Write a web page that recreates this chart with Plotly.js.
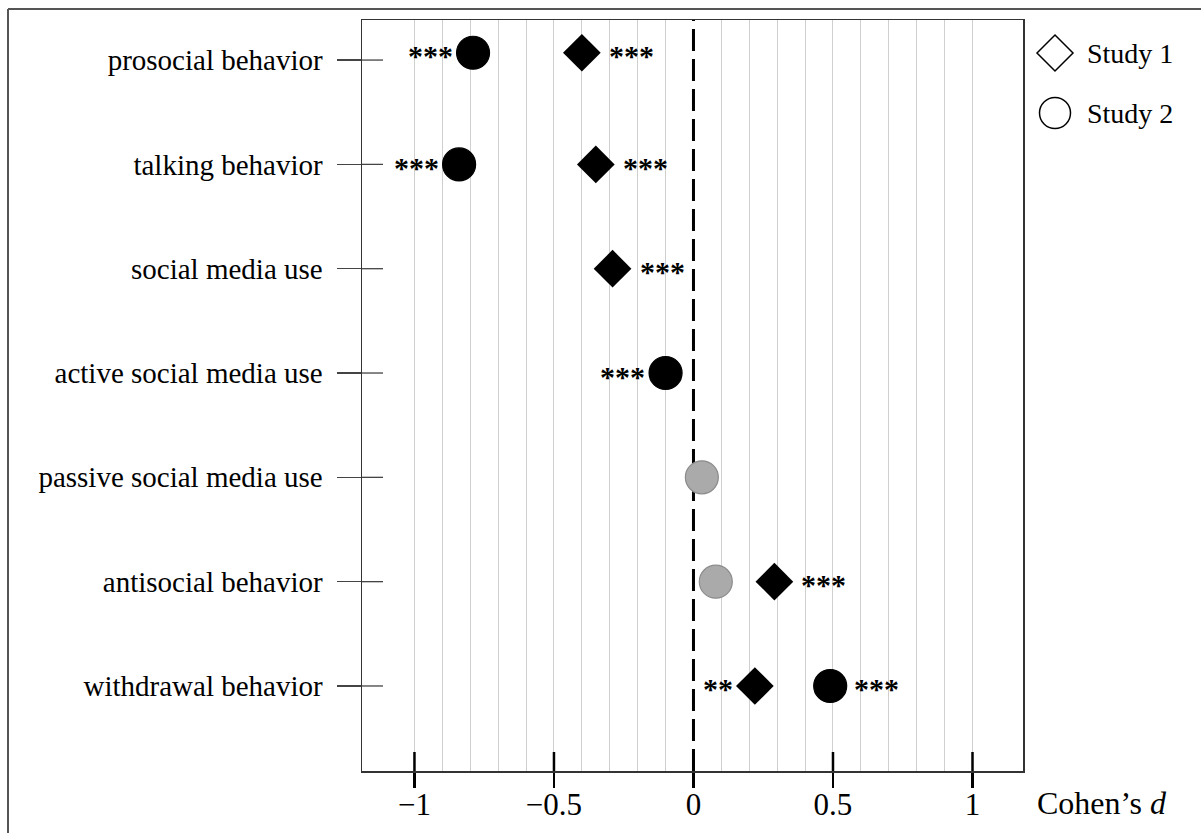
<!DOCTYPE html>
<html>
<head>
<meta charset="utf-8">
<script src="https://cdn.plot.ly/plotly-3.0.1.min.js"></script>
<style>html,body{margin:0;padding:0;background:#fff;}#chart{width:1201px;height:833px;}</style>
</head>
<body>
<div id="chart"></div>
<script>
// ---- data ----
const categories = ['prosocial behavior','talking behavior','social media use','active social media use','passive social media use','antisocial behavior','withdrawal behavior'];
const rowPos = [-0.07, 1, 2, 3, 4, 5, 6];   // vertical position of the markers in each row
const study1 = [-0.40, -0.35, -0.29, null, null, 0.29, 0.22];
const study2 = [-0.79, -0.84, null, -0.10, 0.03, 0.08, 0.49];
const sig1 = ['***','***','***','','','***','**'];
const sig2 = ['***','***','','***','','','***'];
const xTickVals = [-1, -0.5, 0, 0.5, 1];
const xTickText = ['\u22121', '\u22120.5', '0', '0.5', '1'];
const gridVals = [-1,-0.9,-0.8,-0.7,-0.6,-0.5,-0.4,-0.3,-0.2,-0.1,0.1,0.2,0.3,0.4,0.5,0.6,0.7,0.8,0.9,1];
const legendNames = ['Study 1', 'Study 2'];
const xTitle = 'Cohen\u2019s <i>d</i>';

// ---- geometry helpers ----
const W = 1201, H = 833;
const L = 362, R = 1023, T = 20, B = 771;
const px2x = p => (p - L) / (R - L);
const py2y = p => (B - p) / (B - T);
const FONT = 'Liberation Serif, Times New Roman, serif';

const yIdx = categories.map((_, i) => i);

const s2color = sig2.map(s => s ? '#000000' : '#aaaaaa');
const s2line = sig2.map(s => s ? '#000000' : '#8c8c8c');

const traces = [
  {
    type: 'scatter', mode: 'markers', name: legendNames[0],
    x: study1, y: rowPos,
    marker: {symbol: 'diamond', size: 29, color: '#000', line: {width: 0}},
    showlegend: false, cliponaxis: false
  },
  {
    type: 'scatter', mode: 'markers', name: legendNames[1],
    x: study2, y: rowPos,
    marker: {symbol: 'circle', size: 33, color: s2color, line: {width: 1.2, color: s2line}},
    showlegend: false, cliponaxis: false
  }
];

const annotations = [];
const starFont = {family: FONT, size: 30, color: '#000'};
const DIAM_R = 19, CIRC_R = 16.5;
categories.forEach((c, i) => {
  if (sig1[i] && study1[i] !== null) {
    const left = study2[i] !== null && study2[i] > study1[i];
    annotations.push({
      x: study1[i], y: rowPos[i], xref: 'x', yref: 'y', text: '<b>' + sig1[i] + '</b>', showarrow: false,
      xanchor: left ? 'right' : 'left', xshift: left ? -(DIAM_R + 1) : (DIAM_R + 6), yshift: -3,
      font: starFont
    });
  }
  if (sig2[i] && study2[i] !== null) {
    const right = (study1[i] !== null && study2[i] > study1[i]) || (study1[i] === null && study2[i] > 0);
    annotations.push({
      x: study2[i], y: rowPos[i], xref: 'x', yref: 'y', text: '<b>' + sig2[i] + '</b>', showarrow: false,
      xanchor: right ? 'left' : 'right', xshift: right ? (CIRC_R + 5) : -(CIRC_R + 2), yshift: -3,
      font: starFont
    });
  }
});

// axis title as annotation to the right
annotations.push({
  xref: 'paper', yref: 'paper', x: px2x(1035), y: py2y(803), xanchor: 'left', yanchor: 'middle',
  text: xTitle, showarrow: false, font: {family: FONT, size: 32, color: '#000'}
});

// legend text
const legY = [53, 113];
legendNames.forEach((n, k) => {
  annotations.push({
    xref: 'paper', yref: 'paper', x: px2x(1085), y: py2y(legY[k]), xanchor: 'left', yanchor: 'middle',
    text: n, showarrow: false, font: {family: FONT, size: 28, color: '#000'}
  });
});

const shapes = [];
// dashed zero line
shapes.push({type: 'line', xref: 'x', yref: 'paper', x0: 0, x1: 0, y0: 0, y1: 1,
  line: {color: '#000000', width: 3, dash: '22px,8px'}, layer: 'between'});
// inner parts of x ticks
xTickVals.forEach(v => {
  shapes.push({type: 'line', xref: 'x', yref: 'paper', x0: v, x1: v, y0: 0, y1: 19 / (B - T),
    line: {color: '#000', width: 2.5}, layer: 'above'});
});
// inner parts of y ticks
yIdx.forEach(i => {
  shapes.push({type: 'line', xref: 'paper', yref: 'y', x0: 0, x1: 21 / (R - L), y0: i, y1: i,
    line: {color: '#444', width: 1.3}, layer: 'above'});
});
// legend symbols
shapes.push({type: 'path', xref: 'paper', yref: 'paper', xsizemode: 'pixel', ysizemode: 'pixel',
  xanchor: px2x(1055), yanchor: py2y(legY[0]),
  path: 'M -18 0 L 0 18 L 18 0 L 0 -18 Z', line: {color: '#000', width: 1.5}, fillcolor: 'rgba(0,0,0,0)'});
shapes.push({type: 'circle', xref: 'paper', yref: 'paper', xsizemode: 'pixel', ysizemode: 'pixel',
  xanchor: px2x(1055), yanchor: py2y(legY[1]), x0: -15.5, x1: 15.5, y0: -15.5, y1: 15.5,
  line: {color: '#000', width: 1.5}, fillcolor: 'rgba(0,0,0,0)'});
// outer figure frame (top + left)
shapes.push({type: 'line', xref: 'paper', yref: 'paper', x0: px2x(8), x1: px2x(W + 5), y0: py2y(9), y1: py2y(9),
  line: {color: '#555', width: 2}});
shapes.push({type: 'line', xref: 'paper', yref: 'paper', x0: px2x(8), x1: px2x(8), y0: py2y(9), y1: py2y(H + 5),
  line: {color: '#555', width: 2}});

const layout = {
  width: W, height: H,
  margin: {l: L, r: W - R, t: T, b: H - B, pad: 0},
  paper_bgcolor: '#fff', plot_bgcolor: '#fff',
  showlegend: false,
  font: {family: FONT, color: '#000'},
  xaxis: {
    range: [-1.188, 1.181], tickmode: 'array', tickvals: xTickVals, ticktext: xTickText,
    ticks: 'outside', ticklen: 15, tickwidth: 2.5, tickcolor: '#000', ticklabelstandoff: -10,
    tickfont: {family: FONT, size: 31, color: '#000'},
    showgrid: false,
    minor: {tickmode: 'array', tickvals: gridVals, showgrid: true, gridcolor: '#cfcfcf', gridwidth: 1, ticks: ''},
    zeroline: false, showline: true, mirror: true, linecolor: '#333', linewidth: 1.5,
    fixedrange: true
  },
  yaxis: {
    range: [6.815, -0.384], tickmode: 'array', tickvals: yIdx, ticktext: categories,
    ticks: 'outside', ticklen: 24, tickwidth: 1.3, tickcolor: '#444', ticklabelstandoff: 8,
    tickfont: {family: FONT, size: 29, color: '#000'},
    showgrid: false, zeroline: false, showline: true, mirror: true, linecolor: '#333', linewidth: 1.5,
    fixedrange: true
  },
  annotations: annotations,
  shapes: shapes
};

Plotly.newPlot('chart', traces, layout, {displayModeBar: false, staticPlot: true});
</script>
</body>
</html>
